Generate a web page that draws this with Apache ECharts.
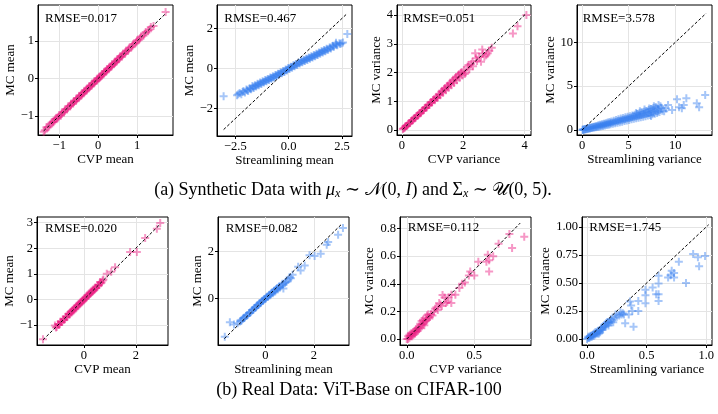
<!DOCTYPE html>
<html lang="en">
<head>
<meta charset="UTF-8">
<title>MC vs CVP / Streamlining</title>
<script src="https://cdn.jsdelivr.net/npm/echarts@6/dist/echarts.min.js"></script>
<style>
    html, body { margin: 0; padding: 0; background: #fff; }
    #chart { width: 718px; height: 414px; }
</style>
</head>
<body>
<div id="chart"></div>
<script>
    // ---- data: [x, y] pairs ----
    // (a) synthetic data
    var synMeanCvp = [[-1.40,-1.42],[-1.33,-1.30],[-1.26,-1.28],[-1.20,-1.18],[-1.15,-1.17],[-1.10,-1.08],[-1.05,-1.07],[-1.00,-0.98],[-0.96,-0.99],[-0.92,-0.90],[-0.88,-0.90],[-0.84,-0.82],[-0.80,-0.82],[-0.76,-0.74],[-0.72,-0.74],[-0.69,-0.67],[-0.65,-0.67],[-0.62,-0.60],[-0.58,-0.60],[-0.55,-0.53],[-0.51,-0.53],[-0.48,-0.46],[-0.44,-0.46],[-0.41,-0.39],[-0.38,-0.40],[-0.35,-0.33],[-0.31,-0.33],[-0.28,-0.26],[-0.25,-0.27],[-0.22,-0.20],[-0.18,-0.20],[-0.15,-0.13],[-0.12,-0.14],[-0.09,-0.07],[-0.05,-0.07],[-0.02,0.00],[0.01,-0.01],[0.04,0.06],[0.07,0.05],[0.10,0.12],[0.13,0.11],[0.17,0.19],[0.20,0.18],[0.23,0.25],[0.26,0.24],[0.30,0.32],[0.33,0.31],[0.36,0.38],[0.40,0.38],[0.43,0.45],[0.46,0.44],[0.50,0.52],[0.53,0.51],[0.57,0.59],[0.60,0.58],[0.64,0.66],[0.68,0.66],[0.72,0.74],[0.76,0.74],[0.80,0.82],[0.85,0.83],[0.90,0.92],[0.95,0.93],[1.00,1.02],[1.05,1.03],[1.10,1.12],[1.16,1.14],[1.22,1.24],[1.28,1.26],[1.35,1.37],[1.42,1.40],[1.73,1.77],
        [-1.37,-1.38],[-1.30,-1.31],[-1.23,-1.22],[-1.17,-1.16],[-1.12,-1.13],[-1.07,-1.05],[-1.02,-1.03],[-0.94,-0.94],[-0.86,-0.86],[-0.78,-0.78],[-0.70,-0.71],[-0.63,-0.63],[-0.56,-0.57],[-0.49,-0.49],[-0.42,-0.43],[-0.36,-0.36],[-0.29,-0.30],[-0.23,-0.23],[-0.16,-0.17],[-0.10,-0.10],[-0.03,-0.04],[0.03,0.02],[0.09,0.08],[0.15,0.15],[0.22,0.21],[0.28,0.28],[0.35,0.34],[0.42,0.41],[0.48,0.48],[0.55,0.55],[0.62,0.62],[0.70,0.70],[0.78,0.78],[0.88,0.87],[0.98,0.97],[1.08,1.08],[1.19,1.19],[1.31,1.30]];
    var synMeanStream = [[-3.05,-1.38],[-2.42,-1.34],[-2.30,-1.22],[-2.22,-1.28],[-2.12,-1.12],[-2.05,-1.20],[-1.98,-1.05],[-1.90,-1.12],[-1.83,-0.98],[-1.76,-1.04],[-1.70,-0.88],[-1.64,-0.97],[-1.58,-0.84],[-1.52,-0.90],[-1.46,-0.76],[-1.40,-0.84],[-1.34,-0.70],[-1.28,-0.78],[-1.22,-0.64],[-1.16,-0.70],[-1.10,-0.58],[-1.04,-0.64],[-0.98,-0.52],[-0.92,-0.58],[-0.86,-0.45],[-0.80,-0.51],[-0.74,-0.39],[-0.68,-0.45],[-0.62,-0.32],[-0.56,-0.38],[-0.50,-0.26],[-0.44,-0.31],[-0.38,-0.19],[-0.32,-0.24],[-0.26,-0.12],[-0.20,-0.17],[-0.14,-0.05],[-0.08,-0.10],[-0.02,0.02],[0.04,-0.02],[0.10,0.09],[0.16,0.04],[0.22,0.16],[0.28,0.11],[0.34,0.23],[0.40,0.18],[0.46,0.30],[0.52,0.25],[0.58,0.37],[0.64,0.31],[0.70,0.43],[0.76,0.37],[0.82,0.49],[0.88,0.43],[0.94,0.55],[1.00,0.49],[1.06,0.61],[1.12,0.55],[1.18,0.67],[1.24,0.61],[1.30,0.73],[1.36,0.67],[1.42,0.80],[1.48,0.73],[1.54,0.86],[1.60,0.80],[1.66,0.92],[1.72,0.86],[1.78,0.98],[1.85,0.93],[1.92,1.05],[1.98,1.00],[2.05,1.12],[2.12,1.08],[2.20,1.20],[2.28,1.16],[2.22,1.28],[2.38,1.26],[2.48,1.26],[2.75,1.72],
        [-2.36,-1.28],[-2.16,-1.17],[-1.95,-1.08],[-1.80,-1.01],[-1.67,-0.93],[-1.55,-0.87],[-1.43,-0.80],[-1.31,-0.74],[-1.19,-0.67],[-1.07,-0.61],[-0.95,-0.55],[-0.83,-0.48],[-0.71,-0.42],[-0.59,-0.35],[-0.47,-0.28],[-0.35,-0.22],[-0.23,-0.15],[-0.11,-0.08],[0.01,0.00],[0.13,0.07],[0.25,0.14],[0.37,0.20],[0.49,0.28],[0.61,0.34],[0.73,0.40],[0.85,0.46],[0.97,0.52],[1.09,0.58],[1.21,0.64],[1.33,0.70],[1.45,0.77],[1.57,0.83],[1.69,0.89],[1.81,0.95],[1.95,1.03],[2.08,1.10],[2.24,1.18],[2.42,1.22],[2.55,1.30]];
    var synVarCvp = [[0.03,0.04],[0.08,0.07],[0.12,0.13],[0.17,0.16],[0.21,0.22],[0.26,0.25],[0.30,0.31],[0.35,0.34],[0.39,0.40],[0.44,0.43],[0.48,0.49],[0.53,0.52],[0.57,0.58],[0.62,0.61],[0.66,0.67],[0.71,0.70],[0.75,0.77],[0.80,0.78],[0.84,0.86],[0.89,0.87],[0.93,0.95],[0.98,0.96],[1.02,1.05],[1.07,1.04],[1.11,1.14],[1.16,1.13],[1.20,1.23],[1.25,1.21],[1.29,1.33],[1.34,1.30],[1.38,1.43],[1.43,1.39],[1.47,1.52],[1.52,1.47],[1.56,1.62],[1.61,1.56],[1.65,1.71],[1.70,1.64],[1.74,1.80],[1.79,1.73],[1.83,1.90],[1.88,1.82],[1.92,1.98],[1.97,1.90],[2.02,2.08],[2.08,2.00],[2.14,2.20],[2.20,2.12],[2.26,2.30],[2.32,2.22],[2.39,2.67],[2.45,2.40],[2.52,2.55],[2.58,2.38],[2.64,2.66],[2.69,2.55],[2.80,2.67],[2.85,2.76],[2.93,2.86],[3.62,3.36],[3.77,3.61],[4.06,4.00],
        [0.05,0.06],[0.10,0.10],[0.15,0.14],[0.24,0.24],[0.33,0.33],[0.42,0.41],[0.51,0.51],[0.60,0.59],[0.69,0.69],[0.78,0.79],[0.87,0.88],[0.96,0.97],[1.05,1.08],[1.14,1.12],[1.23,1.26],[1.32,1.37],[1.41,1.46],[1.50,1.55],[1.59,1.64],[1.68,1.76],[1.77,1.85],[1.86,1.94],[1.95,2.02],[2.05,1.95],[2.17,2.26],[2.30,2.38],[2.42,2.50],[2.62,2.80],[2.75,2.60]];
    var synVarStream = [[0.05,0.02],[0.15,0.06],[0.25,0.04],[0.35,0.12],[0.45,0.08],[0.55,0.17],[0.65,0.13],[0.75,0.23],[0.85,0.18],[0.95,0.29],[1.05,0.22],[1.15,0.35],[1.25,0.26],[1.35,0.41],[1.45,0.30],[1.55,0.47],[1.65,0.34],[1.75,0.53],[1.85,0.38],[1.95,0.59],[2.05,0.42],[2.15,0.66],[2.25,0.46],[2.35,0.72],[2.45,0.51],[2.55,0.78],[2.65,0.56],[2.75,0.85],[2.85,0.60],[2.95,0.91],[3.05,0.65],[3.15,0.98],[3.30,0.70],[3.40,1.06],[3.55,0.76],[3.65,1.14],[3.80,0.82],[3.90,1.22],[4.05,0.88],[4.15,1.30],[4.30,0.95],[4.40,1.38],[4.55,1.02],[4.65,1.45],[4.80,1.08],[4.90,1.52],[5.05,1.15],[5.15,1.58],[5.30,1.22],[5.40,1.66],[5.55,1.28],[5.65,1.74],[5.80,1.34],[5.90,1.82],[6.05,1.40],[6.15,1.90],[6.30,1.46],[6.40,2.00],[6.55,1.52],[6.65,2.08],[6.80,1.58],[6.90,2.18],[7.05,1.66],[7.15,2.28],[7.30,1.72],[7.40,2.40],[7.55,1.80],[7.65,2.52],[7.80,1.86],[7.90,2.62],[8.05,1.95],[8.15,2.40],[8.30,2.05],[8.40,2.72],[8.60,2.20],[9.22,2.85],[9.65,2.28],[10.18,3.50],[10.40,2.60],[10.70,2.47],[10.90,2.85],[11.18,3.61],[12.30,3.04],[12.55,2.59],[13.20,3.99],
        [0.10,0.04],[0.30,0.08],[0.50,0.13],[0.70,0.18],[0.90,0.24],[1.10,0.29],[1.30,0.33],[1.50,0.38],[1.70,0.44],[1.90,0.49],[2.10,0.54],[2.30,0.59],[2.50,0.65],[2.70,0.70],[2.90,0.75],[3.10,0.81],[3.35,0.88],[3.60,0.95],[3.85,1.02],[4.10,1.09],[4.35,1.16],[4.60,1.23],[4.85,1.30],[5.10,1.37],[5.35,1.44],[5.60,1.51],[5.85,1.58],[6.10,1.65],[6.35,1.72],[6.60,1.80],[6.85,1.88],[7.10,1.96],[7.35,2.05],[7.60,2.15],[7.85,2.25],[8.10,2.10],[7.20,2.45],[7.70,2.70],[8.20,2.85],[8.50,2.55],[6.70,2.35],[6.20,2.15],[9.00,2.45],[8.80,2.15],[7.40,1.60],[5.80,1.95]];
    // (b) real data
    var realMeanCvp = [[-1.58,-1.56],[-1.12,-1.02],[-1.05,-1.08],[-1.00,-0.96],[-0.95,-0.98],[-0.90,-0.86],[-0.85,-0.88],[-0.80,-0.77],[-0.75,-0.78],[-0.70,-0.67],[-0.65,-0.68],[-0.60,-0.57],[-0.56,-0.59],[-0.52,-0.49],[-0.48,-0.51],[-0.44,-0.41],[-0.40,-0.43],[-0.36,-0.33],[-0.32,-0.35],[-0.28,-0.25],[-0.24,-0.27],[-0.20,-0.17],[-0.16,-0.19],[-0.12,-0.09],[-0.08,-0.11],[-0.04,-0.01],[0.00,-0.03],[0.04,0.07],[0.08,0.05],[0.12,0.15],[0.16,0.13],[0.20,0.23],[0.24,0.21],[0.28,0.31],[0.32,0.29],[0.36,0.39],[0.40,0.37],[0.44,0.47],[0.48,0.45],[0.53,0.55],[0.58,0.56],[0.62,0.68],[0.68,0.66],[0.75,0.78],[0.88,1.00],[1.05,1.08],[1.20,1.26],[1.78,1.85],[2.04,1.85],[2.36,2.40],[2.81,2.76],[2.94,2.99],
        [-1.08,-1.10],[-0.98,-1.00],[-0.88,-0.88],[-0.78,-0.80],[-0.68,-0.70],[-0.58,-0.58],[-0.50,-0.50],[-0.42,-0.42],[-0.34,-0.34],[-0.26,-0.26],[-0.18,-0.18],[-0.10,-0.10],[-0.02,-0.02],[0.06,0.06],[0.14,0.14],[0.22,0.22],[0.30,0.30],[0.38,0.38],[0.46,0.46],[0.55,0.54],[0.65,0.63],[0.72,0.74]];
    var realMeanStream = [[-1.68,-1.62],[-1.47,-1.01],[-1.30,-1.10],[-1.15,-1.05],[-1.05,-0.98],[-0.98,-0.90],[-0.92,-0.85],[-0.86,-0.80],[-0.80,-0.74],[-0.74,-0.70],[-0.68,-0.63],[-0.62,-0.58],[-0.56,-0.51],[-0.50,-0.47],[-0.45,-0.40],[-0.40,-0.37],[-0.35,-0.30],[-0.30,-0.28],[-0.25,-0.20],[-0.20,-0.19],[-0.15,-0.11],[-0.10,-0.10],[-0.05,-0.02],[0.00,-0.02],[0.05,0.06],[0.10,0.06],[0.15,0.15],[0.20,0.14],[0.25,0.23],[0.30,0.22],[0.35,0.31],[0.40,0.30],[0.45,0.40],[0.50,0.38],[0.55,0.48],[0.60,0.46],[0.67,0.56],[0.74,0.42],[0.72,0.60],[0.80,0.66],[0.88,0.72],[0.95,0.80],[1.05,0.86],[1.12,1.00],[1.35,1.34],[1.45,1.18],[1.62,1.40],[1.82,1.83],[2.03,1.80],[2.28,1.89],[2.53,2.28],[2.59,2.39],[3.00,2.70],[3.20,2.98],
        [-1.00,-0.95],[-0.89,-0.83],[-0.77,-0.72],[-0.65,-0.61],[-0.53,-0.49],[-0.42,-0.39],[-0.32,-0.29],[-0.22,-0.20],[-0.12,-0.10],[-0.02,-0.01],[0.08,0.08],[0.18,0.17],[0.28,0.26],[0.38,0.35],[0.48,0.44],[0.58,0.52],[0.70,0.62],[0.84,0.70],[1.00,0.90]];
    var realVarCvp = [[0.00,0.00],[0.01,0.02],[0.02,0.01],[0.02,0.03],[0.03,0.02],[0.04,0.04],[0.04,0.02],[0.05,0.05],[0.06,0.04],[0.06,0.06],[0.07,0.05],[0.08,0.08],[0.08,0.06],[0.09,0.09],[0.10,0.08],[0.11,0.10],[0.11,0.13],[0.12,0.11],[0.13,0.12],[0.14,0.15],[0.14,0.13],[0.15,0.17],[0.16,0.15],[0.17,0.16],[0.18,0.18],[0.20,0.20],[0.22,0.23],[0.23,0.21],[0.25,0.25],[0.26,0.24],[0.265,0.318],[0.29,0.26],[0.31,0.30],[0.33,0.32],[0.33,0.26],[0.36,0.32],[0.39,0.37],[0.41,0.40],[0.43,0.41],[0.46,0.46],[0.47,0.49],[0.50,0.46],[0.53,0.56],[0.59,0.56],[0.60,0.61],[0.61,0.57],[0.61,0.49],[0.64,0.60],[0.68,0.69],[0.76,0.76],[0.78,0.66],[0.87,0.74],
        [0.01,0.00],[0.03,0.04],[0.05,0.03],[0.07,0.07],[0.09,0.07],[0.10,0.11],[0.12,0.14],[0.13,0.10],[0.15,0.14],[0.16,0.18],[0.19,0.17],[0.21,0.22],[0.24,0.26],[0.28,0.30],[0.30,0.27]];
    var realVarStream = [[0.00,0.00],[0.01,0.01],[0.02,0.01],[0.02,0.02],[0.03,0.02],[0.04,0.03],[0.04,0.02],[0.05,0.04],[0.06,0.03],[0.06,0.05],[0.07,0.04],[0.08,0.06],[0.09,0.05],[0.10,0.07],[0.10,0.05],[0.11,0.08],[0.12,0.09],[0.13,0.10],[0.14,0.11],[0.15,0.13],[0.16,0.12],[0.17,0.15],[0.18,0.14],[0.19,0.16],[0.20,0.15],[0.21,0.17],[0.24,0.22],[0.27,0.21],[0.29,0.22],[0.30,0.23],[0.32,0.14],[0.35,0.22],[0.36,0.335],[0.37,0.30],[0.38,0.25],[0.39,0.11],[0.43,0.34],[0.43,0.25],[0.49,0.44],[0.49,0.39],[0.49,0.32],[0.55,0.46],[0.58,0.40],[0.60,0.564],[0.60,0.495],[0.60,0.40],[0.60,0.34],[0.68,0.55],[0.70,0.57],[0.71,0.61],[0.73,0.59],[0.73,0.55],[0.77,0.69],[0.83,0.50],[0.89,0.76],[0.93,0.73],[0.94,0.65],[0.99,0.74],
        [0.01,0.02],[0.03,0.03],[0.05,0.03],[0.07,0.06],[0.08,0.05],[0.09,0.07],[0.11,0.06],[0.12,0.10],[0.13,0.08],[0.15,0.11],[0.16,0.14],[0.18,0.12],[0.20,0.18],[0.22,0.15],[0.23,0.19],[0.25,0.20],[0.28,0.24],[0.31,0.22]];

    // y = x reference line ends
    var diagEnds = [[-1.40, 1.75], [-3.05, 2.72], [0.02, 4.05], [0.0, 13.3],
                    [-1.58, 2.95], [-1.70, 3.15], [0.0, 0.84], [0.0, 1.02]];
    var rmseTexts = ['RMSE=0.017', 'RMSE=0.467', 'RMSE=0.051', 'RMSE=3.578',
                     'RMSE=0.020', 'RMSE=0.082', 'RMSE=0.112', 'RMSE=1.745'];
    var xNames = ['CVP mean', 'Streamlining mean', 'CVP variance', 'Streamlining variance',
                  'CVP mean', 'Streamlining mean', 'CVP variance', 'Streamlining variance'];
    var yNames = ['MC mean', 'MC mean', 'MC variance', 'MC variance',
                  'MC mean', 'MC mean', 'MC variance', 'MC variance'];
    var xTicks = [[-1, 0, 1], [-2.5, 0, 2.5], [0, 2, 4], [0, 5, 10],
                  [0, 2], [0, 2], [0, 0.5], [0, 0.5, 1]];
    var yTicks = [[-1, 0, 1], [-2, 0, 2], [0, 1, 2, 3, 4], [0, 5, 10],
                  [-1, 0, 1, 2, 3], [0, 2], [0, 0.2, 0.4, 0.6, 0.8], [0, 0.25, 0.5, 0.75, 1]];
    var xDec = [0, 1, 0, 0, 0, 0, 1, 1];
    var yDec = [0, 0, 0, 0, 0, 0, 1, 2];
    var captionA = '(a) Synthetic Data with {i|μ}{s|x} ∼ {c|𝒩}(0, {i|I}) and Σ{s|x} ∼ {c|𝒰}(0, 5).';
    var captionB = '(b) Real Data: ViT-Base on CIFAR-100';

    var allPoints = [synMeanCvp, synMeanStream, synVarCvp, synVarStream,
                     realMeanCvp, realMeanStream, realVarCvp, realVarStream];

    // ---- layout (pixels) and axis ranges ----
    var boxes = [[38, 5, 135, 130], [217, 5, 135, 131], [397, 5, 134, 130], [577, 5, 135, 130],
                 [37, 217, 131, 128], [218, 217, 131, 128], [400, 217, 131, 128], [582, 217, 130, 128]];
    var xRange = [[-1.546, 1.92], [-3.36, 2.97], [-0.16, 4.21], [-0.54, 13.93],
                  [-1.81, 3.24], [-1.96, 3.45], [-0.05, 0.92], [-0.042, 1.048]];
    var yRange = [[-1.51, 1.96], [-3.37, 3.17], [-0.17, 4.35], [-0.57, 14.25],
                  [-1.78, 3.22], [-1.97, 3.45], [-0.0434, 0.884], [-0.053, 1.089]];
    var yNameGap = [19.5, 18.5, 13.5, 18.5, 19, 8.5, 20, 26.5];
    var rmsePos = [[45, 18.3], [224.3, 18.3], [403.3, 18.3], [582.7, 18.3],
                   [45, 228.3], [225.7, 228.3], [407.7, 227.7], [589.3, 227.7]];

    var PINK = '#ea1a80', BLUE = '#3a80f0';
    var colors = [PINK, BLUE, PINK, BLUE, PINK, BLUE, PINK, BLUE];
    var plusPath = 'path://M3,0h2v3h3v2h-3v3h-2v-3h-3v-2h3z';
    var serif = '"Liberation Serif", "DejaVu Serif", "Times New Roman", serif';

    function fmt(d) {
        return function (v) { return Number(v).toFixed(d).replace('-', '\u2212'); };
    }

    var grids = [], xAxes = [], yAxes = [], series = [], graphics = [];
    for (var i = 0; i < 8; i++) {
        var b = boxes[i];
        grids.push({ left: b[0], top: b[1], width: b[2], height: b[3], show: true,
                     borderColor: '#000', borderWidth: 1, backgroundColor: 'transparent' });
        xAxes.push({
            type: 'value', gridIndex: i, min: xRange[i][0], max: xRange[i][1],
            name: xNames[i], nameLocation: 'middle', nameGap: i < 4 ? 15 : 16,
            nameTextStyle: { fontFamily: serif, fontSize: 13, color: '#000' },
            axisLine: { show: true, onZero: false, lineStyle: { color: '#000', width: 1 } },
            axisTick: { show: true, length: 3, customValues: xTicks[i], lineStyle: { color: '#000' } },
            axisLabel: { customValues: xTicks[i], formatter: fmt(xDec[i]), fontFamily: serif,
                         fontSize: 12.5, color: '#000', margin: 4 },
            splitLine: { show: true, lineStyle: { color: '#e4e4e4', width: 1 } }
        });
        yAxes.push({
            type: 'value', gridIndex: i, min: yRange[i][0], max: yRange[i][1],
            name: yNames[i], nameLocation: 'middle', nameGap: yNameGap[i],
            nameTextStyle: { fontFamily: serif, fontSize: 13, color: '#000' },
            axisLine: { show: true, onZero: false, lineStyle: { color: '#000', width: 1 } },
            axisTick: { show: true, length: 3, customValues: yTicks[i], lineStyle: { color: '#000' } },
            axisLabel: { customValues: yTicks[i], formatter: fmt(yDec[i]), fontFamily: serif,
                         fontSize: 12.5, color: '#000', margin: 4 },
            splitLine: { show: true, lineStyle: { color: '#e4e4e4', width: 1 } }
        });
        series.push({
            type: 'scatter', xAxisIndex: i, yAxisIndex: i, data: allPoints[i],
            symbol: plusPath, symbolSize: 8, silent: true, z: 2,
            itemStyle: { color: colors[i], opacity: 0.45 }
        });
        var e = diagEnds[i];
        series.push({
            type: 'line', xAxisIndex: i, yAxisIndex: i, data: [[e[0], e[0]], [e[1], e[1]]],
            showSymbol: false, silent: true, z: 3,
            lineStyle: { color: '#000', width: 1, type: [3, 2] }
        });
        graphics.push({
            type: 'text', x: rmsePos[i][0], y: rmsePos[i][1], z: 10,
            style: { text: rmseTexts[i], fontFamily: serif, fontSize: 13, fill: '#000',
                     verticalAlign: 'middle' }
        });
    }

    graphics.push({
        type: 'text', x: 353, y: 190, z: 10,
        style: {
            text: captionA, fontFamily: serif, fontSize: 18, fill: '#000',
            align: 'center', verticalAlign: 'middle',
            rich: {
                i: { fontFamily: serif, fontSize: 18, fontStyle: 'italic' },
                s: { fontFamily: serif, fontSize: 12, fontStyle: 'italic', padding: [7, 0, 0, 0] },
                c: { fontFamily: serif, fontSize: 18 }
            }
        }
    });
    graphics.push({
        type: 'text', x: 359, y: 390, z: 10,
        style: { text: captionB, fontFamily: serif, fontSize: 18, fill: '#000',
                 align: 'center', verticalAlign: 'middle' }
    });

    var chart = echarts.init(document.getElementById('chart'));
    chart.setOption({
        animation: false,
        backgroundColor: '#fff',
        grid: grids,
        xAxis: xAxes,
        yAxis: yAxes,
        series: series,
        graphic: graphics
    });
</script>
</body>
</html>
